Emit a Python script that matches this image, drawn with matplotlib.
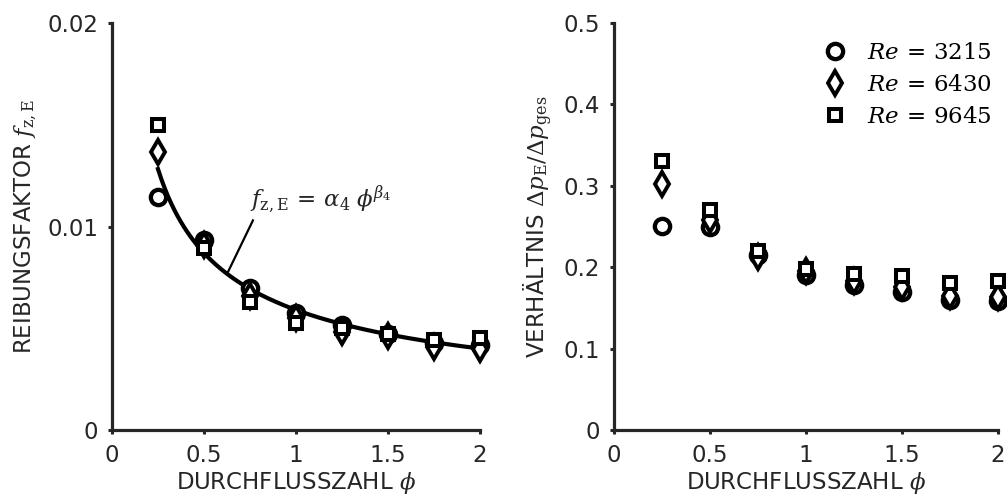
import numpy as np
import matplotlib
matplotlib.use("Agg")
import matplotlib.pyplot as plt

plt.rcParams["font.family"] = ["DejaVu Sans"]
plt.rcParams["mathtext.fontset"] = "dejavuserif"

# Durchflusszahl (shared x values)
phi = [0.25, 0.5, 0.75, 1.0, 1.25, 1.5, 1.75, 2.0]
reynolds = [3215, 6430, 9645]

# Reibungsfaktor f_z,E for each Reynolds number
f_re3215 = [0.01145, 0.00934, 0.00698, 0.00575, 0.00515, 0.00470, 0.00430, 0.00420]
f_re6430 = [0.01366, 0.00910, 0.00660, 0.00550, 0.00480, 0.00460, 0.00410, 0.00400]
f_re9645 = [0.01500, 0.00894, 0.00630, 0.00526, 0.00500, 0.00470, 0.00440, 0.00450]

# Druckverlustverhältnis dp_E / dp_ges
r_re3215 = [0.251, 0.250, 0.215, 0.190, 0.178, 0.170, 0.160, 0.158]
r_re6430 = [0.302, 0.258, 0.212, 0.195, 0.183, 0.176, 0.165, 0.163]
r_re9645 = [0.331, 0.270, 0.220, 0.198, 0.192, 0.189, 0.180, 0.183]

# Power-law fit f = alpha_4 * phi**beta_4
alpha_4 = 0.0059
beta_4 = -0.56

x_ticks = [0, 0.5, 1, 1.5, 2]
x_ticklabels = ["0", "0.5", "1", "1.5", "2"]
f_ticks = [0, 0.01, 0.02]
f_ticklabels = ["0", "0.01", "0.02"]
r_ticks = [0, 0.1, 0.2, 0.3, 0.4, 0.5]
r_ticklabels = ["0", "0.1", "0.2", "0.3", "0.4", "0.5"]

FS = 16.5
INK = "#262626"

marker_styles = [
    dict(marker="o", ms=11, mew=3.1),
    dict(marker="d", ms=12.5, mew=2.8),
    dict(marker="s", ms=8.8, mew=2.9),
]

fig = plt.figure(figsize=(10.07, 5.03), dpi=100)
ax1 = fig.add_axes([0.1112, 0.1451, 0.3655, 0.8092])
ax2 = fig.add_axes([0.6097, 0.1451, 0.3813, 0.8092])


def style_axes(ax):
    for side in ("top", "right"):
        ax.spines[side].set_visible(False)
    for side in ("left", "bottom"):
        ax.spines[side].set_linewidth(2.3)
        ax.spines[side].set_color(INK)
    ax.tick_params(direction="out", length=3, width=2.2, color=INK,
                   labelsize=FS, labelcolor=INK, pad=7)
    ax.set_xlim(0, 2)
    ax.set_xticks(x_ticks)
    ax.set_xticklabels(x_ticklabels)


# Left panel: friction factor with power-law fit
style_axes(ax1)
ax1.set_ylim(0, 0.02)
ax1.set_yticks(f_ticks)
ax1.set_yticklabels(f_ticklabels)

phi_fit = np.linspace(phi[0], phi[-1], 200)
ax1.plot(phi_fit, alpha_4 * phi_fit ** beta_4, color="black", lw=3.0,
         zorder=2)

for vals, st in zip([f_re3215, f_re6430, f_re9645], marker_styles):
    ax1.plot(phi, vals, linestyle="none", marker=st["marker"],
             markersize=st["ms"], markeredgewidth=st["mew"],
             markerfacecolor="white", markeredgecolor="black",
             clip_on=False, zorder=3)

ax1.plot([0.63, 0.766], [0.00776, 0.0103], color="black", lw=1.6, zorder=2)
ax1.text(0.75, 0.01096, r"$f_{\mathrm{z,E}}\,=\,\alpha_4\;\phi^{\beta_4}$",
         fontsize=FS, ha="left", va="baseline", color=INK)

ax1.set_xlabel(r"DURCHFLUSSZAHL $\phi$", fontsize=FS, color=INK, labelpad=2)
ax1.set_ylabel(r"REIBUNGSFAKTOR $f_{\mathrm{z,E}}$", fontsize=FS,
               color=INK, labelpad=6)

# Right panel: pressure loss ratio
style_axes(ax2)
ax2.set_ylim(0, 0.5)
ax2.set_yticks(r_ticks)
ax2.set_yticklabels(r_ticklabels)

for vals, st, re in zip([r_re3215, r_re6430, r_re9645], marker_styles,
                        reynolds):
    ax2.plot(phi, vals, linestyle="none", marker=st["marker"],
             markersize=st["ms"], markeredgewidth=st["mew"],
             markerfacecolor="white", markeredgecolor="black",
             clip_on=False, zorder=3, label=rf"$Re\,=\,{re}$")

ax2.set_xlabel(r"DURCHFLUSSZAHL $\phi$", fontsize=FS, color=INK, labelpad=2)
ax2.set_ylabel(r"VERHÄLTNIS $\Delta p_{\mathrm{E}}/\Delta p_{\mathrm{ges}}$",
               fontsize=FS, color=INK, labelpad=6)

leg = ax2.legend(loc="upper left", bbox_to_anchor=(0.505, 0.995),
                 frameon=False, fontsize=FS, handlelength=1.0,
                 handletextpad=0.9, labelspacing=0.4, borderpad=0.2)
for t in leg.get_texts():
    t.set_color("black")

fig.savefig("out.png", dpi=100)
